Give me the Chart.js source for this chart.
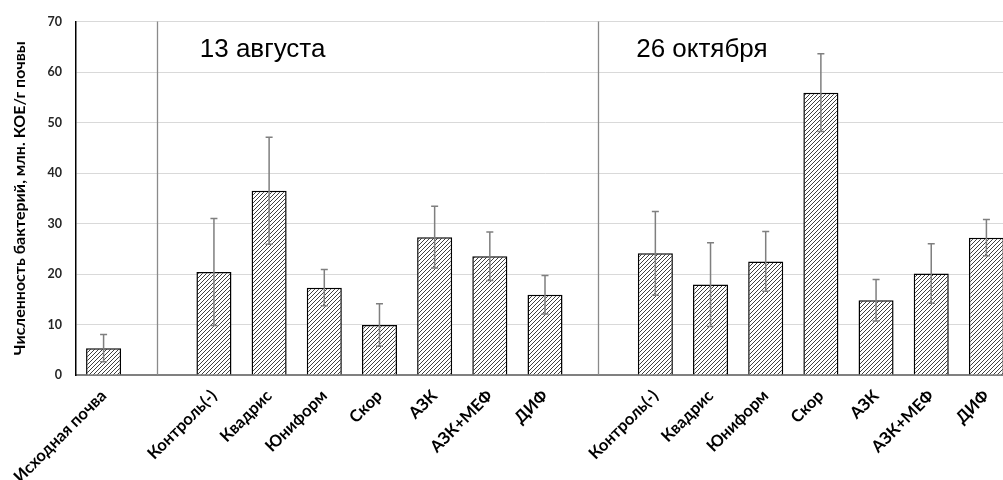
<!DOCTYPE html>
<html>
<head>
<meta charset="utf-8">
<script src="https://cdn.jsdelivr.net/npm/chart.js@4.4.1/dist/chart.umd.min.js"></script>
<style>
  html, body { margin: 0; padding: 0; background: #fff; overflow: hidden; }
  #wrap { position: absolute; left: 0; top: 0; width: 1014px; height: 480px; }
</style>
</head>
<body>
<div id="wrap"><canvas id="c" width="1014" height="480"></canvas></div>
<script>
// Bacteria counts, mln CFU per g of soil (mean and error half-width)
const initialLabel = ['Исходная почва'];
const initialValue = [5.3];
const initialError = [2.7];

const treatments = ['Контроль(-)', 'Квадрис', 'Юниформ', 'Скор', 'АЗК', 'АЗК+МЕФ', 'ДИФ'];

const augustValues = [20.4, 36.5, 17.3, 9.9, 27.3, 23.5, 15.9];
const augustErrors = [10.6, 10.6, 3.6, 4.2, 6.1, 4.8, 3.8];

const octoberValues = [24.1, 17.9, 22.5, 55.9, 14.8, 20.1, 27.2];
const octoberErrors = [8.3, 8.3, 5.9, 7.7, 4.1, 5.9, 3.6];

const periodNames = ['13 августа', '26 октября'];
const yTitle = 'Численность бактерий, млн. КОЕ/г почвы';

// Empty slots separate the initial soil from each sampling date
const labels = [...initialLabel, '', ...treatments, '', ...treatments];
const values = [...initialValue, null, ...augustValues, null, ...octoberValues];
const errors = [...initialError, null, ...augustErrors, null, ...octoberErrors];

function hatch() {
  const s = 4;
  const p = document.createElement('canvas');
  p.width = s; p.height = s;
  const g = p.getContext('2d');
  g.fillStyle = '#fff';
  g.fillRect(0, 0, s, s);
  g.strokeStyle = '#2a2a2a';
  g.lineWidth = 0.9;
  g.beginPath();
  g.moveTo(-1, s + 1); g.lineTo(s + 1, -1);
  g.moveTo(-1, 1); g.lineTo(1, -1);
  g.moveTo(s - 1, s + 1); g.lineTo(s + 1, s - 1);
  g.stroke();
  return document.getElementById('c').getContext('2d').createPattern(p, 'repeat');
}

// Vertical separators, period captions and error bars
const decorations = {
  id: 'decorations',
  beforeDatasetsDraw(chart) {
    const { ctx, chartArea, scales: { x } } = chart;
    ctx.save();
    ctx.strokeStyle = '#8a8a8a';
    ctx.lineWidth = 1.3;
    labels.forEach((l, i) => {
      if (l !== '') return;
      const px = Math.round(x.getPixelForValue(i)) - 1.5;
      ctx.beginPath();
      ctx.moveTo(px, chartArea.top);
      ctx.lineTo(px, chartArea.bottom);
      ctx.stroke();
    });
    ctx.restore();
  },
  afterDatasetsDraw(chart) {
    const { ctx, scales: { x, y } } = chart;
    const meta = chart.getDatasetMeta(0);
    ctx.save();
    ctx.strokeStyle = '#7f7f7f';
    ctx.lineWidth = 1.5;
    meta.data.forEach((bar, i) => {
      const v = values[i], e = errors[i];
      if (v == null || e == null) return;
      const cx = bar.x;
      const yt = y.getPixelForValue(v + e);
      const yb = y.getPixelForValue(v - e);
      ctx.beginPath();
      ctx.moveTo(cx, yt); ctx.lineTo(cx, yb);
      ctx.moveTo(cx - 3.5, yt); ctx.lineTo(cx + 3.5, yt);
      ctx.moveTo(cx - 3.5, yb); ctx.lineTo(cx + 3.5, yb);
      ctx.stroke();
    });
    // period captions
    ctx.fillStyle = '#000';
    ctx.font = '26px "Liberation Sans", Arial, sans-serif';
    ctx.textAlign = 'left';
    ctx.textBaseline = 'alphabetic';
    const seps = labels.map((l, i) => l === '' ? i : -1).filter(i => i >= 0);
    const offsets = [41, 36];
    seps.forEach((si, k) => {
      ctx.fillText(periodNames[k], x.getPixelForValue(si) + offsets[k], y.getPixelForValue(62.9));
    });
    ctx.restore();
  }
};

new Chart(document.getElementById('c'), {
  type: 'bar',
  data: {
    labels,
    datasets: [{
      data: values,
      backgroundColor: hatch(),
      borderColor: '#000',
      borderWidth: 1.5,
      barPercentage: 0.635,
      categoryPercentage: 1
    }]
  },
  options: {
    responsive: false,
    animation: false,
    devicePixelRatio: 1,
    layout: { padding: { top: 21, left: 0, right: 0, bottom: 0 } },
    plugins: { legend: { display: false }, tooltip: { enabled: false } },
    scales: {
      x: {
        grid: { display: false, drawTicks: false },
        border: { display: true, color: '#808080', width: 2 },
        ticks: {
          color: '#000',
          font: { family: 'Lato, "Open Sans", sans-serif', weight: 'bold', size: 16.5 },
          maxRotation: 45, minRotation: 45,
          autoSkip: false,
          padding: 11
        },
        afterFit(s) { s.height = 105; }
      },
      y: {
        min: 0, max: 70,
        ticks: {
          stepSize: 10,
          color: '#262626',
          font: { family: 'Lato, "Open Sans", sans-serif', weight: 'bold', size: 12.5 },
          padding: 14
        },
        grid: { color: '#d9d9d9', lineWidth: 1, drawTicks: false },
        border: { display: true, color: '#000', width: 1.5 },
        title: {
          display: true,
          text: yTitle,
          color: '#000',
          font: { family: 'Lato, "Open Sans", sans-serif', weight: 'bold', size: 16 },
          padding: { top: 10, bottom: 4 }
        },
        afterFit(s) { s.width = 76; }
      }
    }
  },
  plugins: [decorations]
});
</script>
</body>
</html>
